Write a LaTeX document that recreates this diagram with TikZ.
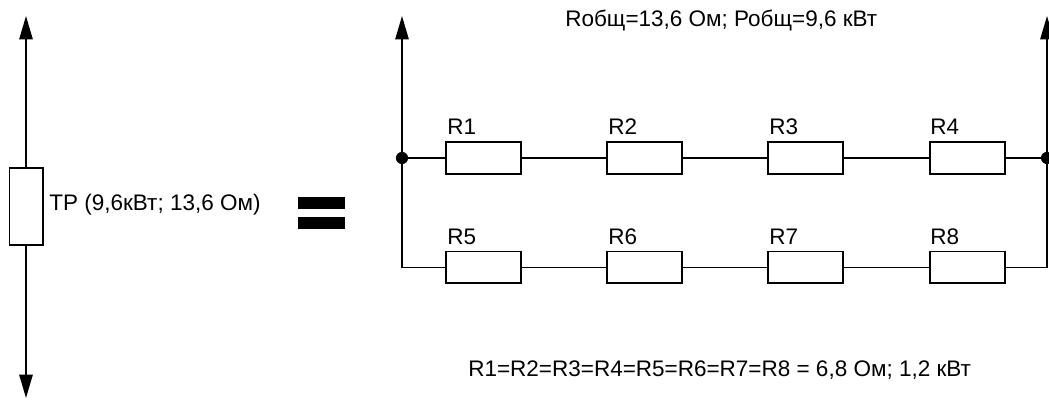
\documentclass[tikz,border=0pt]{standalone}
\usepackage{fontspec}
\setmainfont{Liberation Sans}
\usetikzlibrary{arrows.meta}

\tikzset{
    wire/.style={line width=1pt},
    feed/.style={line width=1pt,-{Triangle[length=14pt,width=8pt]}},
    resbox/.style={draw,line width=1pt,fill=white,rectangle,inner sep=0pt,minimum width=45pt,minimum height=19pt},
    tag/.style={anchor=base west,inner sep=0pt,font=\fontsize{13.5}{16}\selectfont},
    junction/.style={circle,fill=black,inner sep=0pt,minimum size=7.3pt},
    eqbar/.style={rectangle,fill=black,inner sep=0pt,minimum width=28.5pt,minimum height=6.8pt}
}

\begin{document}
\begin{tikzpicture}[x=0.60pt,y=0.60pt,yscale=-1,xscale=1]
    \clip (0,0) rectangle (1049,401);
    % left element
    \node (tr) [resbox,minimum width=20pt,minimum height=46pt] at (26,206.5) {};
    \coordinate (trtop) at (26,16);
    \coordinate (trbot) at (26,398);
    \draw [feed] (tr.north) -- (trtop);
    \draw [feed] (tr.south) -- (trbot);
    \node (trlabel) [tag] at (49,211) {ТР (9,6кВт; 13,6 Ом)};
    % equals sign
    \node (equpper) [eqbar] at (321.5,203) {};
    \node (eqlower) [eqbar] at (321.5,223) {};
    % junctions
    \node (jleft) [junction] at (402,158) {};
    \node (jright) [junction] at (1047,158) {};
    \coordinate (leftcorner) at (402,267.5);
    \coordinate (rightcorner) at (1047,267.5);
    \coordinate (lefttop) at (402,16);
    \coordinate (righttop) at (1047,16);
    % upper branch
    \node (r1) [resbox] at (483.5,158) {};
    \node (r2) [resbox] at (644.5,158) {};
    \node (r3) [resbox] at (805.5,158) {};
    \node (r4) [resbox] at (967.5,158) {};
    % lower branch
    \node (r5) [resbox] at (483.5,267.5) {};
    \node (r6) [resbox] at (644.5,267.5) {};
    \node (r7) [resbox] at (805.5,267.5) {};
    \node (r8) [resbox] at (967.5,267.5) {};
    % connectors
    \draw [feed] (jleft.center) -- (lefttop);
    \draw [feed] (jright.center) -- (righttop);
    \draw [wire] (jleft) -- (r1) -- (r2) -- (r3) -- (r4) -- (jright);
    \draw [wire] (jleft.center) -- (leftcorner) -- (r5.west);
    \draw [wire] (r5) -- (r6) -- (r7) -- (r8);
    \draw [wire] (r8.east) -- (rightcorner) -- (jright.center);
    % labels
    \node (lab1) [tag] at (447,135) {R1};
    \node (lab2) [tag] at (608,135) {R2};
    \node (lab3) [tag] at (769,135) {R3};
    \node (lab4) [tag] at (930,135) {R4};
    \node (lab5) [tag] at (447,245) {R5};
    \node (lab6) [tag] at (608,245) {R6};
    \node (lab7) [tag] at (769,245) {R7};
    \node (lab8) [tag] at (930,245) {R8};
    \node (total) [tag] at (565,27) {Rобщ=13,6 Ом; Робщ=9,6 кВт};
    \node (each) [tag] at (468,376) {R1=R2=R3=R4=R5=R6=R7=R8 = 6,8 Ом; 1,2 кВт};
\end{tikzpicture}
\end{document}
